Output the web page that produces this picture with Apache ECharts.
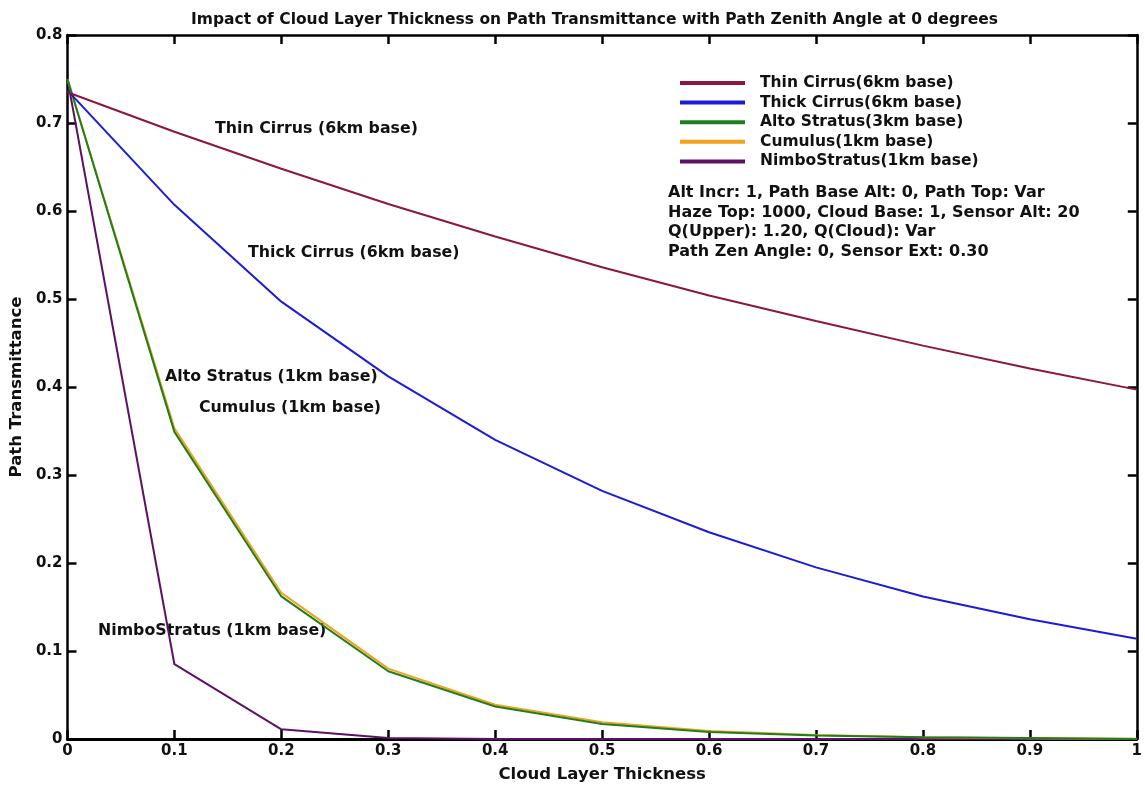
<!DOCTYPE html>
<html><head><meta charset="utf-8">
<script src="https://cdn.jsdelivr.net/npm/echarts@6/dist/echarts.min.js"></script>
<style>html,body{margin:0;padding:0;background:#fff}#c{width:1145px;height:788px}</style>
</head><body><div id="c"></div>
<script>
const xValues = [0, 0.1, 0.2, 0.3, 0.4, 0.5, 0.6, 0.7, 0.8, 0.9, 1.0];
const thinCirrus  = [0.735, 0.690, 0.648, 0.608, 0.571, 0.536, 0.504, 0.475, 0.447, 0.421, 0.397];
const thickCirrus = [0.737, 0.607, 0.497, 0.412, 0.340, 0.282, 0.235, 0.195, 0.162, 0.136, 0.114];
const altoStratus = [0.750, 0.349, 0.162, 0.077, 0.037, 0.017, 0.008, 0.004, 0.002, 0.001, 0.000];
const cumulus     = [0.750, 0.353, 0.166, 0.080, 0.039, 0.019, 0.009, 0.0045, 0.002, 0.0008, 0.0003];
const nimboStratus= [0.750, 0.085, 0.011, 0.001, 0.000, 0.000, 0.000, 0.000, 0.000, 0.000, 0.000];
const seriesNames = ['Thin Cirrus(6km base)', 'Thick Cirrus(6km base)', 'Alto Stratus(3km base)', 'Cumulus(1km base)', 'NimboStratus(1km base)'];
const seriesColors = ['#8c1640', '#1c1cd8', '#1d7f1d', '#f4a11c', '#5c1264'];
const infoLines = ['Alt Incr: 1, Path Base Alt: 0, Path Top: Var', 'Haze Top: 1000, Cloud Base: 1, Sensor Alt: 20', 'Q(Upper): 1.20, Q(Cloud): Var', 'Path Zen Angle: 0, Sensor Ext: 0.30'];
const annotations = [
  {text: 'Thin Cirrus (6km base)', x: 215, y: 130},
  {text: 'Thick Cirrus (6km base)', x: 248, y: 254},
  {text: 'Alto Stratus (1km base)', x: 165, y: 378},
  {text: 'Cumulus (1km base)', x: 199, y: 409},
  {text: 'NimboStratus (1km base)', x: 98, y: 632}
];
const allData = [thinCirrus, thickCirrus, altoStratus, cumulus, nimboStratus];
const FONT = 'DejaVu Sans, sans-serif';

const chart = echarts.init(document.getElementById('c'));
const mkLine = w => ({show: true, onZero: false, lineStyle: {color: '#000', width: w}});
const tickStyle = {show: true, inside: true, length: 9, lineStyle: {color: '#000', width: 2.5}};
const labelStyle = {color: '#111', fontFamily: FONT, fontSize: 15, fontWeight: 'bold'};
const fmt = v => String(+v.toFixed(1));
const option = {
  backgroundColor: '#fff',
  animation: false,
  title: {text: 'Impact of Cloud Layer Thickness on Path Transmittance with Path Zenith Angle at 0 degrees',
    left: 186, top: 7, textStyle: {fontFamily: FONT, fontSize: 15.5, fontWeight: 'bold', color: '#111'}},
  grid: {left: 67, right: 5, top: 35, bottom: 48},
  legend: {orient: 'vertical', left: 675, top: 70, itemWidth: 65, itemHeight: 4, itemGap: 3.6, icon: 'rect',
    data: seriesNames, selectedMode: false,
    textStyle: {fontFamily: FONT, fontSize: 15.5, fontWeight: 'bold', color: '#111', padding: [0, 0, 0, 10]}},
  xAxis: [
    {type: 'value', min: 0, max: 1, interval: 0.1, axisLine: mkLine(3), axisTick: tickStyle, splitLine: {show: false},
     axisLabel: Object.assign({}, labelStyle, {margin: 5, formatter: fmt}),
     name: 'Cloud Layer Thickness', nameLocation: 'middle', nameGap: 27,
     nameTextStyle: {fontFamily: FONT, fontSize: 16.5, fontWeight: 'bold', color: '#111'}},
    {type: 'value', min: 0, max: 1, interval: 0.1, position: 'top', axisLine: mkLine(2.5), axisTick: tickStyle,
     axisLabel: {show: false}, splitLine: {show: false}}
  ],
  yAxis: [
    {type: 'value', min: 0, max: 0.8, interval: 0.1, axisLine: mkLine(2.5), axisTick: tickStyle, splitLine: {show: false},
     axisLabel: Object.assign({}, labelStyle, {margin: 5, formatter: fmt}),
     name: 'Path Transmittance', nameLocation: 'middle', nameGap: 42,
     nameTextStyle: {fontFamily: FONT, fontSize: 16.5, fontWeight: 'bold', color: '#111'}},
    {type: 'value', min: 0, max: 0.8, interval: 0.1, position: 'right', axisLine: mkLine(2.5), axisTick: tickStyle,
     axisLabel: {show: false}, splitLine: {show: false}}
  ],
  series: seriesNames.map((n, i) => ({
    name: n, type: 'line', showSymbol: false, symbol: 'none', z: 10 - i,
    lineStyle: {color: seriesColors[i], width: 2}, itemStyle: {color: seriesColors[i]},
    data: xValues.map((x, j) => [x, allData[i][j]])
  })),
  graphic: [
    ...infoLines.map((t, i) => ({type: 'text', left: 668, top: 185 + i * 19.6,
      style: {text: t, fontFamily: FONT, fontSize: 16, fontWeight: 'bold', fill: '#111'}})),
    ...annotations.map(a => ({type: 'text', left: a.x, top: a.y - 9,
      style: {text: a.text, fontFamily: FONT, fontSize: 15.8, fontWeight: 'bold', fill: '#111'}}))
  ]
};
chart.setOption(option);
</script></body></html>
